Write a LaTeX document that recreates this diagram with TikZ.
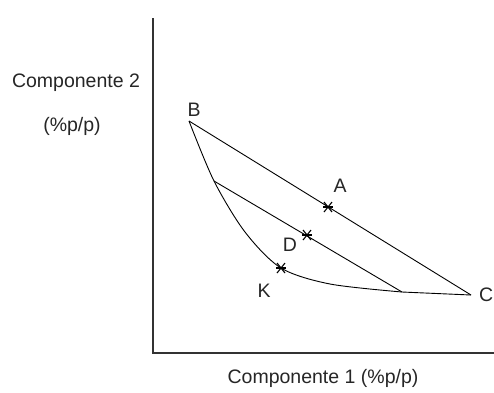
\documentclass[tikz,border=0pt]{standalone}
\usepackage{fontspec}
\setmainfont{Liberation Sans}
\begin{document}
\begin{tikzpicture}[x=1pt,y=-1pt,
  lbl/.style={font=\fontsize{19.5}{23}\selectfont, inner sep=0pt, text=black!85},
  axisline/.style={line width=1.4pt, draw=black!80},
  thin/.style={line width=0.9pt, draw=black},
  crossmark/.style={line width=1.1pt}]
\useasboundingbox (0,0) rectangle (494,392);
% axes
\coordinate (top) at (153,18);
\coordinate (origin) at (153,353);
\coordinate (right) at (494,353);
\draw[axisline] (top) -- (origin) -- (right);
% points
\coordinate (pB) at (189,121);
\coordinate (pA) at (328,207);
\coordinate (pC) at (471,295);
\coordinate (pE) at (214,181);
\coordinate (pF) at (402,292);
\coordinate (pD) at (307,235);
\coordinate (pK) at (281,268);
% lines
\draw[thin] (pB) -- (pC);
\draw[thin] (pE) -- (pF);
\draw[thin] plot[smooth, tension=0.5] coordinates {(189,121) (214,181) (245,232) (281,268) (330,284) (402,292)} -- (pC);
% cross marks
\foreach \p in {pA,pD,pK}{
  \draw[crossmark] ([shift={(-4,-5)}]\p) -- ([shift={(4,5)}]\p);
  \draw[crossmark] ([shift={(4,-5)}]\p) -- ([shift={(-4,5)}]\p);
  \draw[crossmark] ([shift={(-5,0)}]\p) -- ([shift={(5,0)}]\p);
}
% labels
\node[lbl] (lB) at (194,110) {B};
\node[lbl] (lA) at (340,186) {A};
\node[lbl] (lD) at (290,245) {D};
\node[lbl] (lK) at (264,291) {K};
\node[lbl, anchor=east] (lC) at (493.5,295) {C};
\node[lbl] (ly1) at (76,83) {Componente 2};
\node[lbl] (ly2) at (72,126) {(\%p/p)};
\node[lbl] (lx) at (323,378) {Componente 1 (\%p/p)};
\end{tikzpicture}
\end{document}
